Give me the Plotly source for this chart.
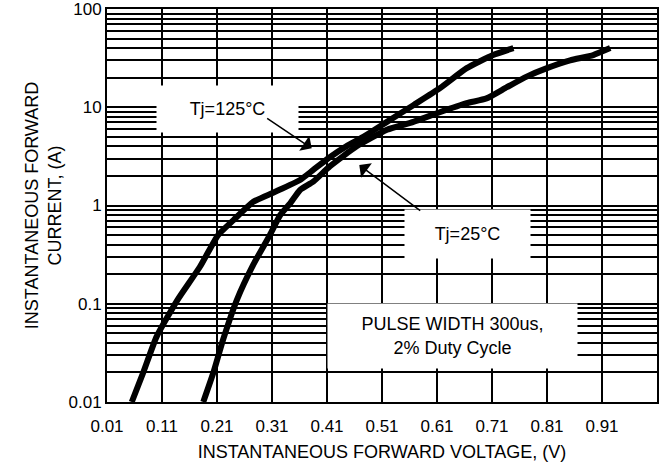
import numpy as np
import plotly.graph_objects as go

# ---- data ----
v_125 = [0.055, 0.076, 0.100, 0.138, 0.179, 0.212, 0.240, 0.276, 0.312, 0.361,
         0.385, 0.415, 0.445, 0.476, 0.519, 0.567, 0.615, 0.664, 0.712, 0.749]
i_125 = [0.010, 0.020, 0.046, 0.109, 0.238, 0.50, 0.71, 1.09, 1.35, 1.82,
         2.3, 3.1, 4.0, 5.0, 7.1, 10.5, 15.6, 25.0, 34.0, 40.0]

v_25 = [0.185, 0.203, 0.221, 0.246, 0.276, 0.306, 0.325, 0.343, 0.361, 0.385,
        0.415, 0.464, 0.519, 0.567, 0.615, 0.664, 0.700, 0.737, 0.773, 0.810,
        0.852, 0.894, 0.925]
i_25 = [0.010, 0.0196, 0.043, 0.109, 0.25, 0.50, 0.80, 1.05, 1.44, 1.75,
        2.5, 4.0, 5.9, 7.1, 8.9, 11.0, 12.3, 16.0, 20.5, 25.0,
        30.0, 34.0, 40.0]

x_ticks = [0.01, 0.11, 0.21, 0.31, 0.41, 0.51, 0.61, 0.71, 0.81, 0.91]
x_ticktext = ["0.01", "0.11", "0.21", "0.31", "0.41", "0.51", "0.61", "0.71", "0.81", "0.91"]
y_ticks = [0.01, 0.1, 1, 10, 100]
y_ticktext = ["0.01", "0.1", "1", "10", "100"]

FONT = "Liberation Sans, Arial, sans-serif"

fig = go.Figure()
for vx, iy in [(v_125, i_125), (v_25, i_25)]:
    fig.add_trace(go.Scatter(x=vx, y=iy, mode="lines",
                             line=dict(color="black", width=6, shape="spline", smoothing=0.5),
                             showlegend=False, hoverinfo="skip"))

minor_vals = [m * 10.0 ** e for e in range(-2, 2) for m in range(2, 10)]

fig.update_xaxes(range=[0.01, 1.01], tickvals=x_ticks, ticktext=x_ticktext,
                 showgrid=True, gridcolor="black", gridwidth=2,
                 showline=True, linecolor="black", linewidth=2, mirror=True,
                 ticks="", zeroline=False, automargin=False, ticklabelstandoff=8,
                 tickfont=dict(family=FONT, size=17, color="black"),
                 title=dict(text="INSTANTANEOUS FORWARD VOLTAGE, (V)",
                            font=dict(family=FONT, size=18, color="black"), standoff=10))
fig.update_yaxes(type="log", range=[-2, 2], tickvals=y_ticks, ticktext=y_ticktext,
                 showgrid=True, gridcolor="black", gridwidth=2,
                 minor=dict(tickvals=minor_vals, showgrid=True, gridcolor="black", gridwidth=2, ticks=""),
                 showline=True, linecolor="black", linewidth=2, mirror=True,
                 ticks="", zeroline=False, automargin=False, ticklabeloverflow="allow",
                 tickfont=dict(family=FONT, size=17, color="black"),
                 title=dict(text="INSTANTANEOUS FORWARD<br>CURRENT, (A)",
                            font=dict(family=FONT, size=18, color="black"), standoff=2))

afont = dict(family=FONT, size=18, color="black")
# text boxes
fig.add_annotation(x=0.229, y=np.log10(9.6), text="Tj=125°C", showarrow=False,
                   bgcolor="white", width=141, height=46, borderpad=0, font=afont)
fig.add_annotation(x=0.6655, y=np.log10(0.513), text="Tj=25°C", showarrow=False,
                   bgcolor="white", width=125, height=48, borderpad=0, font=afont)
fig.add_annotation(x=0.6382, y=np.log10(0.047), text="PULSE WIDTH 300us,<br>2% Duty Cycle",
                   showarrow=False, bgcolor="white", width=249, height=64, borderpad=0, font=afont)
# arrows
fig.add_annotation(x=0.3822, y=np.log10(3.82), ax=0.2985, ay=np.log10(7.9),
                   axref="x", ayref="y", text="", showarrow=True,
                   arrowhead=1, arrowsize=2, arrowwidth=1.5, arrowcolor="black", standoff=0)
fig.add_annotation(x=0.4687, y=np.log10(2.58), ax=0.5822, ay=np.log10(0.865),
                   axref="x", ayref="y", text="", showarrow=True,
                   arrowhead=1, arrowsize=2, arrowwidth=1.5, arrowcolor="black", standoff=0)

fig.update_layout(width=665, height=468, margin=dict(l=107, r=8, t=9, b=66, autoexpand=False),
                  paper_bgcolor="white", plot_bgcolor="white",
                  font=dict(family=FONT, color="black"))

fig.write_html("out.html", config={"displayModeBar": False},
               post_script="document.body.style.margin='0px';")
